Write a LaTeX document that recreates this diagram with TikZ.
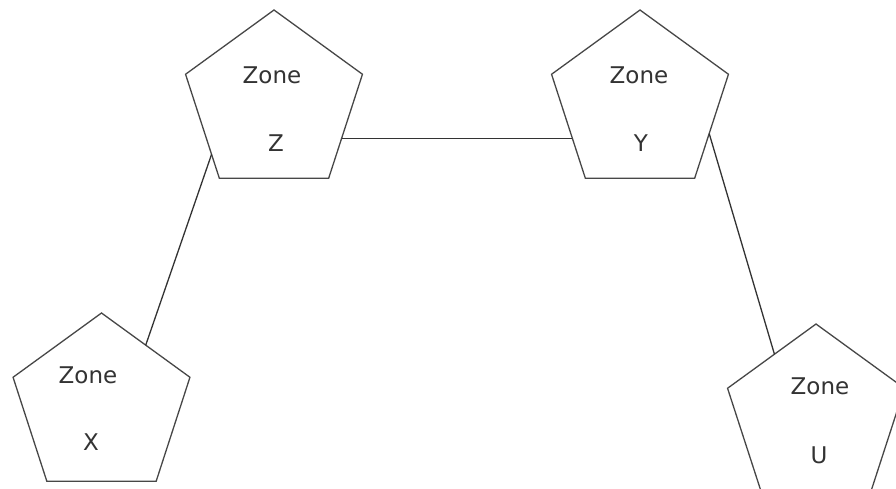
\documentclass[tikz,border=0pt]{standalone}
\usepackage{fontspec}
\setmainfont{DejaVu Sans}
\usetikzlibrary{shapes.geometric,calc}
\tikzset{
  zone/.style={regular polygon, regular polygon sides=5, minimum size=186pt, inner sep=0pt, outer sep=0pt, draw=black!72, line width=1.3pt, fill=white},
  lbl/.style={text=black!80, font=\fontsize{23}{27}\selectfont, inner sep=0pt},
  link/.style={draw=black!80, line width=1.3pt}
}
\begin{document}
\begin{tikzpicture}[x=1pt,y=-1pt]
\useasboundingbox (0,0) rectangle (896,488);
\clip (0,0) rectangle (896,488);
\fill[white] (0,0) rectangle (896,488);
% pentagons
\node[zone] (Z) at (274,103) {};
\node[zone] (Y) at (640,103) {};
\node[zone] (X) at (101.5,406) {};
\node[zone] (U) at (816,417) {};
% texts
\node[lbl] (Zt) at (272,75) {Zone};
\node[lbl] (Zl) at (276,143) {Z};
\node[lbl] (Yt) at (639,75) {Zone};
\node[lbl] (Yl) at (641,143) {Y};
\node[lbl] (Xt) at (88,375) {Zone};
\node[lbl] (Xl) at (91,442) {X};
\node[lbl] (Ut) at (820,386) {Zone};
\node[lbl] (Ul) at (819,455) {U};
% connectors
\draw[link] ($(Z.corner 5)!0.615!(Z.corner 4)$) -- ($(Y.corner 2)!0.615!(Y.corner 3)$);
\draw[link] ($(Z.corner 2)!0.77!(Z.corner 3)$) -- ($(X.corner 1)!0.5!(X.corner 5)$);
\draw[link] ($(Y.corner 5)!0.57!(Y.corner 4)$) -- ($(U.corner 1)!0.47!(U.corner 2)$);
\end{tikzpicture}
\end{document}
